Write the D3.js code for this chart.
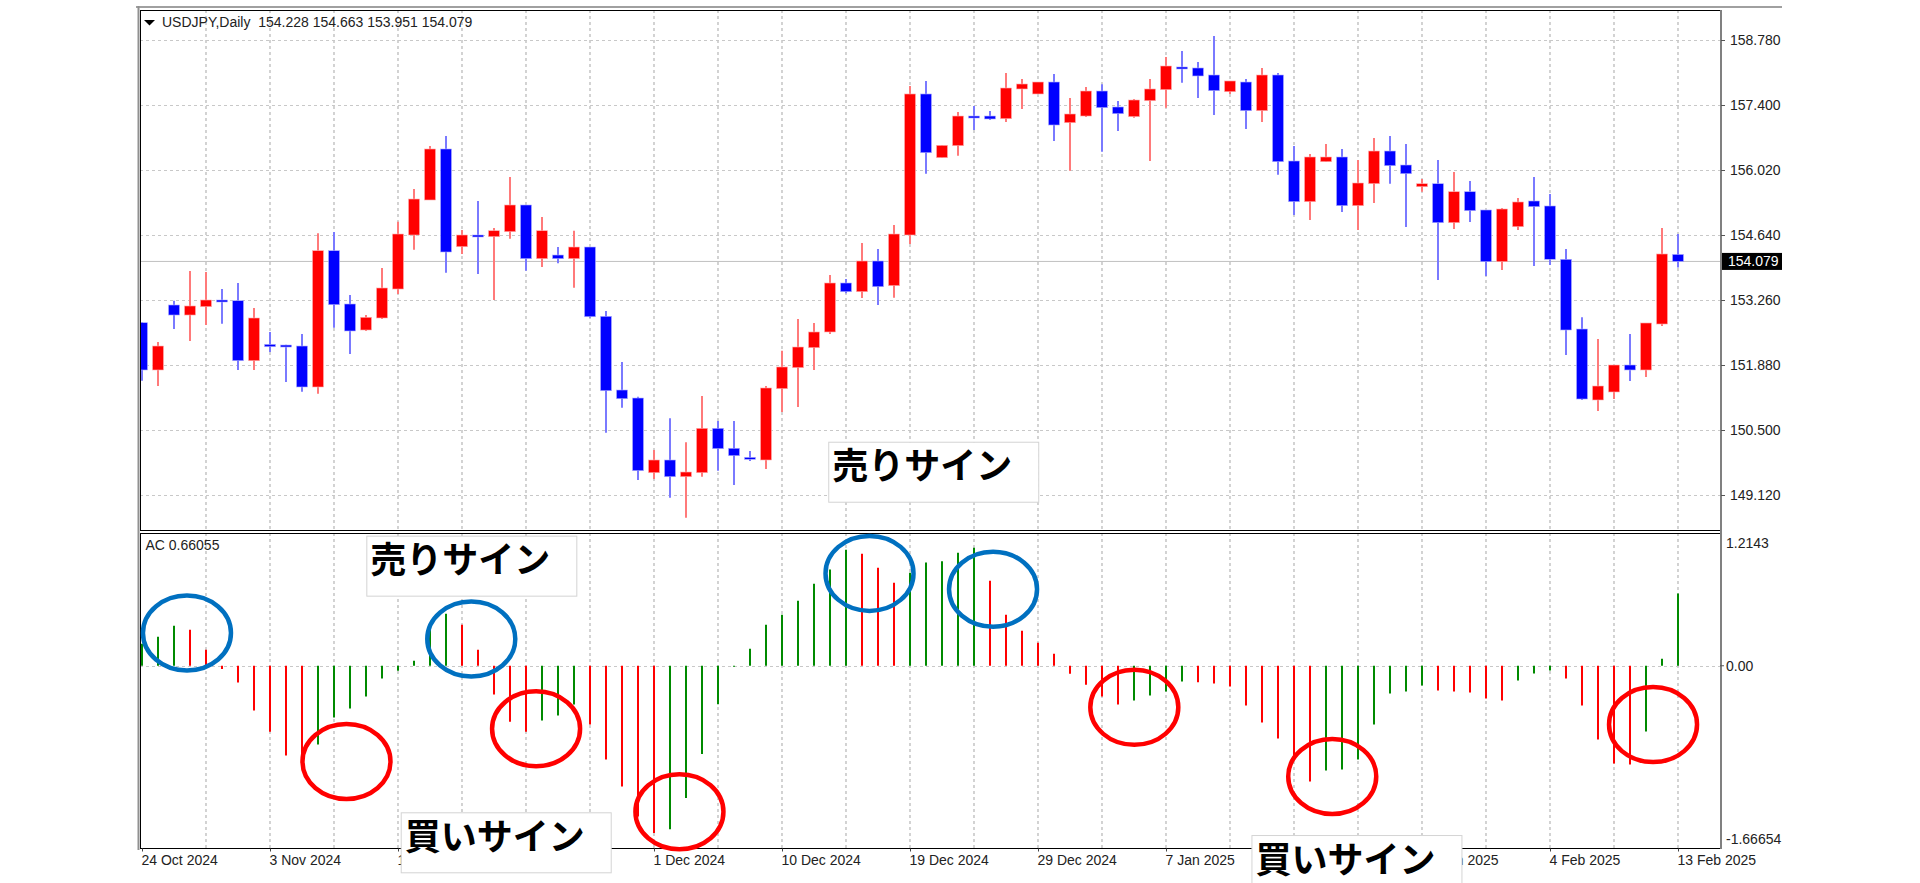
<!DOCTYPE html>
<html><head><meta charset="utf-8">
<script src="https://cdn.jsdelivr.net/npm/d3@7"></script>
<style>
html,body{margin:0;padding:0;background:#fff;}
svg{display:block;}
</style></head><body>
<svg id="chart" width="1920" height="883"></svg>
<script>
// ---------------- DATA ----------------
const dates = ["2024-10-24","2024-10-25","2024-10-27","2024-10-28","2024-10-29","2024-10-30","2024-10-31","2024-11-01",
"2024-11-03","2024-11-04","2024-11-05","2024-11-06","2024-11-07","2024-11-08","2024-11-10","2024-11-11",
"2024-11-12","2024-11-13","2024-11-14","2024-11-15","2024-11-17","2024-11-18","2024-11-19","2024-11-20",
"2024-11-21","2024-11-22","2024-11-24","2024-11-25","2024-11-26","2024-11-27","2024-11-28","2024-11-29",
"2024-12-01","2024-12-02","2024-12-03","2024-12-04","2024-12-05","2024-12-06","2024-12-08","2024-12-09",
"2024-12-10","2024-12-11","2024-12-12","2024-12-13","2024-12-15","2024-12-16","2024-12-17","2024-12-18",
"2024-12-19","2024-12-20","2024-12-22","2024-12-23","2024-12-24","2024-12-25","2024-12-26","2024-12-27",
"2024-12-29","2024-12-30","2024-12-31","2025-01-01","2025-01-02","2025-01-03","2025-01-05","2025-01-06",
"2025-01-07","2025-01-08","2025-01-09","2025-01-10","2025-01-12","2025-01-13","2025-01-14","2025-01-15",
"2025-01-16","2025-01-17","2025-01-19","2025-01-20","2025-01-21","2025-01-22","2025-01-23","2025-01-24",
"2025-01-26","2025-01-27","2025-01-28","2025-01-29","2025-01-30","2025-01-31","2025-02-02","2025-02-03",
"2025-02-04","2025-02-05","2025-02-06","2025-02-07","2025-02-09","2025-02-10","2025-02-11","2025-02-12",
"2025-02-13"];

const open = [152.778,151.774,153.154,152.941,153.118,153.260,153.245,151.971,152.319,152.304,
152.283,151.413,154.307,153.175,152.623,152.878,153.493,154.640,155.383,156.466,
154.391,154.640,154.604,154.710,155.277,154.137,154.215,154.137,154.385,152.914,
151.349,151.179,149.593,149.863,149.508,149.593,150.536,150.112,149.920,149.863,
151.377,151.823,152.247,152.581,153.621,153.436,154.088,153.564,154.640,157.634,
156.281,156.536,157.166,157.166,157.109,157.740,157.634,157.888,157.024,157.166,
157.697,157.358,157.152,157.491,157.725,158.207,158.186,158.037,157.682,157.888,
157.279,158.037,156.211,155.347,156.196,156.296,155.262,155.729,156.423,156.126,
155.665,155.729,154.901,155.559,155.171,154.073,154.816,155.362,155.256,154.124,
152.644,151.137,151.307,151.880,151.774,152.750,154.228];

const high = [152.795,152.368,153.245,153.876,153.854,153.493,153.621,153.090,152.581,152.310,
152.538,154.676,154.704,153.366,152.941,153.939,154.922,155.617,156.530,156.742,
154.746,155.362,154.789,155.871,155.277,155.022,154.385,154.731,154.385,153.026,
151.944,151.207,150.075,150.748,150.239,151.222,150.691,150.691,150.054,151.434,
152.183,152.857,152.772,153.791,153.706,154.470,154.343,154.852,157.803,157.910,
156.544,157.251,157.379,157.273,158.079,157.952,157.888,158.058,157.549,157.782,
157.839,157.485,157.527,157.952,158.419,158.546,158.313,158.865,157.910,157.952,
158.186,158.079,156.530,156.360,156.572,156.466,156.232,156.699,156.742,156.572,
155.829,156.232,155.978,155.786,155.171,155.213,155.426,155.871,155.510,154.343,
152.893,152.432,151.880,152.538,152.772,154.789,154.663];

const low = [151.547,151.434,152.644,152.389,152.729,152.757,151.774,151.774,152.156,151.519,
151.313,151.270,152.672,152.114,152.602,152.857,153.387,154.328,155.383,153.839,
154.237,153.812,153.260,154.561,153.882,153.961,154.039,153.521,152.884,150.443,
150.973,149.438,149.460,149.062,148.638,149.508,149.636,149.332,149.842,149.672,
150.882,150.988,151.774,152.538,153.402,153.302,153.154,153.309,154.449,155.941,
156.281,156.324,156.869,157.082,157.039,157.315,157.634,156.636,156.005,157.145,
156.408,156.848,157.130,156.211,157.343,157.873,157.549,157.188,157.634,156.890,
157.039,155.920,155.065,154.958,156.196,155.128,154.746,155.319,155.729,154.810,
155.559,153.685,154.767,154.916,153.769,153.897,154.746,153.982,154.003,152.092,
151.137,150.903,151.158,151.540,151.625,152.708,153.951];

const close = [151.774,152.283,152.941,153.133,153.260,153.224,151.971,152.878,152.268,152.273,
151.413,154.307,153.160,152.602,152.893,153.515,154.661,155.404,156.466,154.279,
154.640,154.608,154.731,155.277,154.137,154.731,154.137,154.385,152.905,151.334,
151.164,149.636,149.863,149.508,149.608,150.536,150.103,149.954,149.878,151.392,
151.838,152.262,152.581,153.621,153.436,154.088,153.542,154.661,157.634,156.387,
156.544,157.166,157.135,157.103,157.761,157.846,157.888,156.975,157.209,157.697,
157.343,157.215,157.506,157.740,158.228,158.171,158.016,157.704,157.910,157.279,
158.037,156.196,155.347,156.296,156.296,155.262,155.744,156.423,156.111,155.941,
155.729,154.901,155.559,155.156,154.073,155.192,155.341,155.241,154.124,152.623,
151.158,151.434,151.880,151.774,152.772,154.237,154.079];

const acValues = [0.201,0.265,0.366,0.329,0.146,-0.030,-0.152,-0.409,-0.604,-0.820,
-0.909,-0.720,-0.473,-0.390,-0.281,-0.116,-0.046,0.046,0.384,0.476,
0.375,0.146,-0.262,-0.512,-0.604,-0.500,-0.454,-0.354,-0.537,-0.857,
-1.104,-1.378,-1.530,-1.494,-1.210,-0.808,-0.351,-0.010,0.155,0.375,
0.466,0.594,0.750,0.880,1.061,1.024,0.896,0.759,0.850,0.945,
0.955,1.033,1.079,0.777,0.466,0.320,0.210,0.110,-0.073,-0.174,
-0.281,-0.354,-0.317,-0.272,-0.235,-0.144,-0.150,-0.162,-0.189,-0.363,
-0.518,-0.665,-0.839,-1.058,-0.957,-0.948,-0.857,-0.537,-0.253,-0.235,
-0.180,-0.226,-0.235,-0.244,-0.299,-0.317,-0.134,-0.070,-0.043,-0.116,
-0.363,-0.674,-0.894,-0.903,-0.601,0.064,0.66055];

const priceTicks = [149.12,150.5,151.88,153.26,154.64,156.02,157.4,158.78];
const acTicks = [1.2143, 0, -1.66654];
const acTickLabels = ["1.2143","0.00","-1.66654"];
const titleText = "USDJPY,Daily  154.228 154.663 153.951 154.079";
const acTitle = "AC 0.66055";
const lastPrice = 154.079;

// annotations (bar index, AC value)
const sellCircles = [[2.81,0.300],[20.58,0.245],[45.47,0.845],[53.19,0.700]];
const buyCircles  = [[12.78,-0.875],[24.63,-0.576],[33.59,-1.335],[62.02,-0.380],[74.39,-1.013],[94.44,-0.538]];
const signLabels = ["売りサイン","売りサイン","買いサイン","買いサイン"];
// [panel, bar index (left), value (top)]
const signBoxes = [["price",42.89,150.251],["ac",14.02,1.19],["ac",16.17,-1.34],["ac",69.34,-1.548]];

// ---------------- LAYOUT ----------------
const L = 140, R = 1720, pTop = 10, pBot = 530, aTop = 533, aBot = 848;
const svg = d3.select("#chart");
const FONT = "'Liberation Sans', Arial, sans-serif";
const GRID = "#c8c8c8";

const x = d3.scalePoint().domain(dates).range([142, 1678]);
const xIdx = d3.scaleLinear().domain([0, dates.length-1]).range([142, 1678]);
const y = d3.scaleLinear().domain([149.12, 158.78]).range([495, 40]);
const ya = d3.scaleLinear().domain([-1.66654, 1.2143]).range([aBot, aTop]);

const defs = svg.append("defs");
defs.append("clipPath").attr("id","cp").append("rect").attr("x",L+1).attr("y",pTop+1).attr("width",R-L-1).attr("height",pBot-pTop-1);
defs.append("clipPath").attr("id","ca").append("rect").attr("x",L+1).attr("y",aTop+1).attr("width",R-L-1).attr("height",aBot-aTop-1);

// grid
const gGrid = svg.append("g");
gGrid.selectAll("line.h").data(priceTicks).join("line")
  .attr("x1",L).attr("x2",R).attr("y1",d=>Math.round(y(d))+0.5).attr("y2",d=>Math.round(y(d))+0.5)
  .attr("stroke",GRID).attr("stroke-dasharray","3,3").attr("stroke-width",1);
const vIdx = dates.map((d,i)=>i).filter(i=>i>0 && i%4===0);
gGrid.selectAll("line.v").data(vIdx).join("line")
  .attr("x1",i=>x(dates[i])).attr("x2",i=>x(dates[i])).attr("y1",pTop).attr("y2",pBot)
  .attr("stroke",GRID).attr("stroke-dasharray","3,3").attr("stroke-width",1.6);
gGrid.selectAll("line.va").data(vIdx).join("line")
  .attr("x1",i=>x(dates[i])).attr("x2",i=>x(dates[i])).attr("y1",aTop).attr("y2",aBot)
  .attr("stroke",GRID).attr("stroke-dasharray","3,3").attr("stroke-width",1.6);
gGrid.append("line").attr("x1",L).attr("x2",R).attr("y1",Math.round(ya(0))+0.5).attr("y2",Math.round(ya(0))+0.5)
  .attr("stroke",GRID).attr("stroke-dasharray","3,3");

// last price line
svg.append("line").attr("x1",L).attr("x2",R).attr("y1",y(lastPrice)).attr("y2",y(lastPrice))
  .attr("stroke","#c0c0c0").attr("stroke-width",1);

// candles
const candles = dates.map((d,i)=>({d,o:open[i],h:high[i],l:low[i],c:close[i]}));
const gC = svg.append("g").attr("clip-path","url(#cp)");
gC.selectAll("line.w").data(candles).join("line")
  .attr("x1",d=>x(d.d)).attr("x2",d=>x(d.d)).attr("y1",d=>y(d.h)).attr("y2",d=>y(d.l))
  .attr("stroke",d=>d.c>=d.o?"#ff7a7a":"#7a7aff").attr("stroke-width",2);
gC.selectAll("rect.b").data(candles).join("rect")
  .attr("x",d=>x(d.d)-5.5).attr("width",11)
  .attr("y",d=>y(Math.max(d.o,d.c))).attr("height",d=>Math.max(2,Math.abs(y(d.o)-y(d.c))))
  .attr("fill",d=>d.c>=d.o?"#ff0000":"#0000ff")
  .attr("stroke",d=>d.c>=d.o?"#ffb0b0":"#b0b0ff").attr("stroke-width",0.6);

// AC histogram
const acData = acValues.map((v,i)=>({d:dates[i],v,up: i===0 ? true : v>acValues[i-1]}));
const gA = svg.append("g").attr("clip-path","url(#ca)");
gA.selectAll("line").data(acData).join("line")
  .attr("x1",d=>x(d.d)).attr("x2",d=>x(d.d)).attr("y1",ya(0)).attr("y2",d=>ya(d.v))
  .attr("stroke",d=>d.up?"#008a00":"#ff0000").attr("stroke-width",2);

// frames
const gF = svg.append("g");
gF.append("line").attr("x1",136).attr("x2",1782).attr("y1",7).attr("y2",7).attr("stroke","#a0a0a0").attr("stroke-width",2);
gF.append("line").attr("x1",138.5).attr("x2",138.5).attr("y1",6).attr("y2",850).attr("stroke","#909090").attr("stroke-width",2);
gF.append("rect").attr("x",L+0.5).attr("y",pTop+0.5).attr("width",R-L).attr("height",pBot-pTop)
  .attr("fill","none").attr("stroke","#000").attr("stroke-width",1);
gF.append("rect").attr("x",L+0.5).attr("y",aTop+0.5).attr("width",R-L).attr("height",aBot-aTop)
  .attr("fill","none").attr("stroke","#000").attr("stroke-width",1);
gF.append("line").attr("x1",R+1).attr("x2",R+1).attr("y1",pTop).attr("y2",aBot+1).attr("stroke","#808080").attr("stroke-width",2);

// title texts
svg.append("path").attr("d","M144,20 L155,20 L149.5,25.5 Z").attr("fill","#000");
svg.append("text").attr("x",162).attr("y",27).attr("font-family",FONT).attr("font-size",14)
  .attr("fill","#222").style("white-space","pre").text(titleText);
svg.append("text").attr("x",145.5).attr("y",550).attr("font-family",FONT).attr("font-size",14)
  .attr("fill","#222").text(acTitle);

// price axis
const pAxis = d3.axisRight(y).tickValues(priceTicks).tickFormat(d3.format(".3f")).tickSize(4).tickPadding(5);
const gPA = svg.append("g").attr("transform",`translate(${R+1},0)`).call(pAxis);
gPA.select(".domain").remove();
gPA.selectAll("text").attr("font-family",FONT).attr("font-size",14).attr("fill","#222");
gPA.selectAll("line").attr("stroke","#555");

// last price tag
svg.append("rect").attr("x",R+2).attr("y",y(lastPrice)-8.5).attr("width",60).attr("height",17).attr("fill","#000");
svg.append("text").attr("x",R+8).attr("y",y(lastPrice)).attr("dy","0.35em").attr("font-family",FONT)
  .attr("font-size",14).attr("fill","#fff").text(d3.format(".3f")(lastPrice));

// AC axis
const gAA = svg.append("g");
gAA.selectAll("text").data(acTicks).join("text")
  .attr("x",R+6).attr("y",(d,i)=> i===0 ? ya(d)+10 : (i===2 ? ya(d)-9 : ya(d)))
  .attr("dy","0.35em").attr("font-family",FONT).attr("font-size",14).attr("fill","#222")
  .text((d,i)=>acTickLabels[i]);
gAA.append("line").attr("x1",R).attr("x2",R+4).attr("y1",ya(0)).attr("y2",ya(0)).attr("stroke","#555");

// date axis
const tickDates = dates.filter((d,i)=>i%8===0);
const fmt = d3.timeFormat("%-d %b %Y");
const parse = d3.timeParse("%Y-%m-%d");
const xAxis = d3.axisBottom(x).tickValues(tickDates).tickFormat(d=>fmt(parse(d))).tickSize(3).tickPadding(4);
const gX = svg.append("g").attr("transform",`translate(0,${aBot+0.5})`).call(xAxis);
gX.select(".domain").remove();
gX.selectAll("text").attr("font-family",FONT).attr("font-size",14).attr("fill","#222")
  .attr("text-anchor","start").attr("x",-1);
gX.selectAll("line").attr("stroke","#444");

// annotation ellipses
const gE = svg.append("g");
gE.selectAll("ellipse.s").data(sellCircles).join("ellipse")
  .attr("cx",d=>xIdx(d[0])).attr("cy",d=>ya(d[1])).attr("rx",44).attr("ry",37.5)
  .attr("fill","none").attr("stroke","#0070c0").attr("stroke-width",4.5);
gE.selectAll("ellipse.b").data(buyCircles).join("ellipse")
  .attr("cx",d=>xIdx(d[0])).attr("cy",d=>ya(d[1])).attr("rx",44).attr("ry",37.5)
  .attr("fill","none").attr("stroke","#ff0000").attr("stroke-width",4.5);

// sign boxes
const gB = svg.append("g");
signBoxes.forEach((b,i)=>{
  const bx = xIdx(b[1]);
  const by = b[0]==="price" ? y(b[2]) : ya(b[2]);
  gB.append("rect").attr("x",bx+0.5).attr("y",by+0.5).attr("width",210).attr("height",60)
    .attr("fill","#fff").attr("stroke","#d4d4d4").attr("stroke-width",1);
  gB.append("text").attr("x",bx+4).attr("y",by+37.5)
    .attr("font-family","'Noto Sans CJK JP','Noto Sans CJK SC',sans-serif").attr("font-weight",700)
    .attr("font-size",36).attr("fill","#000").text(signLabels[i]);
});
</script>
</body></html>
